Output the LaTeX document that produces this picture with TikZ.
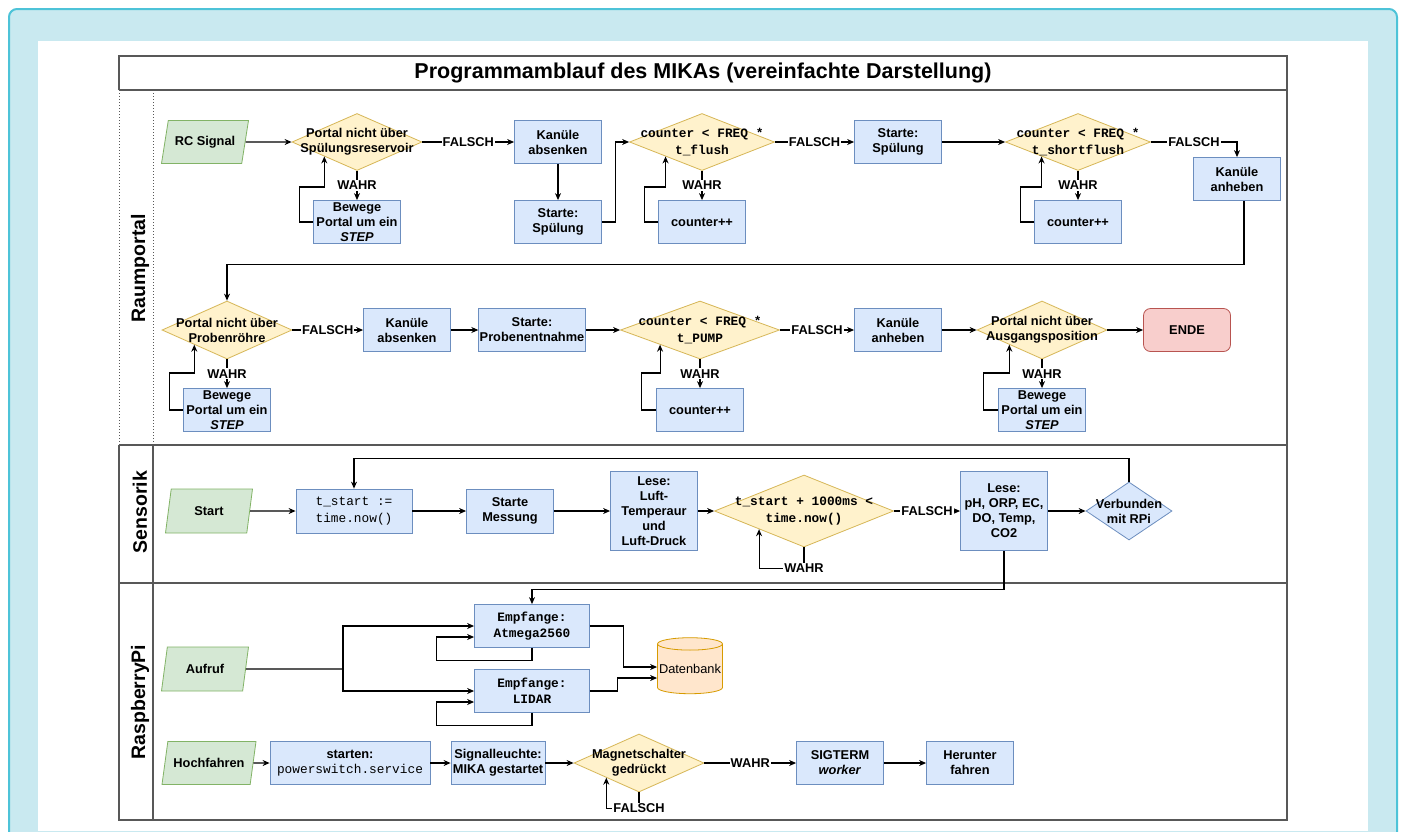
\documentclass[tikz,border=0pt]{standalone}
\usepackage{fontspec}
\setmainfont{Liberation Sans}
\setmonofont{Liberation Mono}
\usetikzlibrary{arrows.meta, positioning, shapes.geometric}

\definecolor{bluefill}{HTML}{DAE8FC}
\definecolor{blueline}{HTML}{6C8EBF}
\definecolor{yellowfill}{HTML}{FFF2CC}
\definecolor{yellowline}{HTML}{D6B656}
\definecolor{greenfill}{HTML}{D5E8D4}
\definecolor{greenline}{HTML}{82B366}
\definecolor{redfill}{HTML}{F8CECC}
\definecolor{redline}{HTML}{B85450}
\definecolor{orangefill}{HTML}{FFE6CC}
\definecolor{orangeline}{HTML}{D79B00}
\definecolor{frameline}{HTML}{585858}
\definecolor{cyanfill}{HTML}{C9E9F0}
\definecolor{cyanline}{HTML}{4DC3D8}

\newcommand{\boxfont}{\bfseries\fontsize{12.8}{15}\selectfont}
\newcommand{\codefont}{\ttfamily\bfseries\fontsize{12.8}{16.5}\selectfont}

\begin{document}
\begin{tikzpicture}[x=1pt, y=-1pt,
            process/.style={ rectangle, draw=blueline, fill=bluefill, line width=0.8pt, minimum width=87pt, minimum height=43pt, inner sep=1pt, align=center, font=\boxfont },
            decision/.style={ diamond, draw=yellowline, fill=yellowfill, line width=0.8pt, inner sep=0pt, minimum width=130pt, minimum height=57pt },
            dtext/.style={ align=center, font=\boxfont },
            dcode/.style={ align=center, font=\codefont },
            io/.style={ trapezium, trapezium left angle=70, trapezium right angle=110, trapezium stretches body, draw=greenline, fill=greenfill, line width=0.8pt, minimum width=87pt, minimum height=43pt, inner xsep=-3pt, font=\boxfont },
            terminal/.style={ rectangle, rounded corners=7pt, draw=redline, fill=redfill, line width=0.8pt, minimum width=87pt, minimum height=43pt, font=\boxfont },
            database/.style={ cylinder, shape border rotate=90, aspect=0.2, draw=orangeline, fill=orangefill, line width=0.8pt, minimum width=65pt, minimum height=56pt, inner sep=0pt, font=\fontsize{12.8}{15}\selectfont },
            arrow/.style={ -{Stealth[length=7pt, width=6pt]}, line width=1.1pt },
            link/.style={ line width=1.1pt },
            lbl/.style={ fill=white, inner sep=1pt, font=\boxfont },
            lane/.style={ rotate=90, font=\bfseries\fontsize{19.5}{22}\selectfont },
            frame/.style={ draw=frameline, line width=1.2pt }
        ]
            \clip (0,0) rectangle (1402,831);
            % Background
            \fill[white] (0,0) rectangle (1402,831);
            \draw[draw=cyanline, fill=cyanfill, line width=2pt, rounded corners=8pt] (9,9) rectangle (1397,870);
            \fill[white] (38,41) rectangle (1368,831);

            % Pool and lanes
            \draw[frame] (119,90) -- (119,56) -- (1287,56) -- (1287,820) -- (119,820) -- (119,445);
            \draw[frame] (119,90) -- (1287,90);
            \draw[frame] (119,445) -- (1287,445);
            \draw[frame] (119,583) -- (1287,583);
            \draw[frame] (153,445) -- (153,820);
            \draw[frameline, dotted, line width=1pt] (119,90) -- (119,445);
            \draw[frameline, dotted, line width=1pt] (153,90) -- (153,445);
            \node (title) at (703,73) [font=\bfseries\fontsize{21.5}{24}\selectfont] {Programmamblauf des MIKAs (vereinfachte Darstellung)};
            \node (raumportal) at (140,268) [lane] {Raumportal};
            \node (sensorik) at (140,512) [lane] {Sensorik};
            \node (raspberrypi) at (140,702) [lane] {RaspberryPi};

            % Raumportal, first row
            \node (rc) at (205,142) [io] {RC Signal};
            \node (d1) at (357,142) [decision] {};
            \node (d1t) at (d1) [dtext] {Portal nicht über\\Spülungsreservoir};
            \node (b1) at (357,222) [process] {Bewege\\Portal um ein\\\textit{STEP}};
            \node (k1) at (558,142) [process] {Kanüle\\absenken};
            \node (s1) at (558,222) [process] {Starte:\\Spülung};
            \node (d2) at (702,142) [decision, minimum width=145pt] {};
            \node (d2t) at (d2) [dcode] {counter < FREQ *\\t\_flush};
            \node (c1) at (702,222) [process] {counter++};
            \node (s2) at (898,142) [process] {Starte:\\Spülung};
            \node (d3) at (1078,142) [decision, minimum width=145pt] {};
            \node (d3t) at (d3) [dcode] {counter < FREQ *\\t\_shortflush};
            \node (c2) at (1078,222) [process] {counter++};
            \node (ka1) at (1237,179) [process] {Kanüle\\anheben};

            % Raumportal, second row
            \node (d4) at (227,330) [decision, minimum height=58pt] {};
            \node (d4t) at (d4) [dtext] {Portal nicht über\\Probenröhre};
            \node (b2) at (227,410) [process] {Bewege\\Portal um ein\\\textit{STEP}};
            \node (k2) at (407,330) [process] {Kanüle\\absenken};
            \node (p1) at (532,330) [process, minimum width=106pt] {Starte:\\Probenentnahme};
            \node (d5) at (700,330) [decision, minimum width=159pt, minimum height=58pt] {};
            \node (d5t) at (d5) [dcode] {counter < FREQ *\\t\_PUMP};
            \node (c3) at (700,410) [process] {counter++};
            \node (ka2) at (898,330) [process] {Kanüle\\anheben};
            \node (d6) at (1042,330) [decision, minimum height=58pt] {};
            \node (d6t) at (d6) [dtext] {Portal nicht über\\Ausgangsposition};
            \node (b3) at (1042,410) [process] {Bewege\\Portal um ein\\\textit{STEP}};
            \node (ende) at (1187,330) [terminal] {ENDE};

            % Sensorik
            \node (start) at (209,511) [io, minimum height=44pt] {Start};
            \node (ts) at (354,511) [process, minimum width=116pt, minimum height=44pt, font=\ttfamily\fontsize{12.8}{16.5}\selectfont] {t\_start :=\\time.now()};
            \node (sm) at (510,511) [process, minimum height=44pt] {Starte\\Messung};
            \node (luft) at (654,511) [process, minimum height=79pt] {Lese:\\Luft-\\Temperaur\\und\\Luft-Druck};
            \node (d7) at (804,511) [decision, minimum width=179pt, minimum height=72pt] {};
            \node (d7t) at (d7) [dcode] {t\_start + 1000ms <\\time.now()};
            \node (lese) at (1004,511) [process, minimum height=79pt] {Lese:\\pH, ORP, EC,\\DO, Temp,\\CO2};
            \node (d8) at (1129,511) [decision, draw=blueline, fill=bluefill, minimum width=86pt, minimum height=58pt] {};
            \node (d8t) at (d8) [dtext] {Verbunden\\mit RPi};

            % RaspberryPi
            \node (aufruf) at (205,669) [io, minimum height=44pt] {Aufruf};
            \node (e1) at (532,626) [process, minimum width=115pt, font=\codefont] {Empfange:\\Atmega2560};
            \node (e2) at (532,691) [process, minimum width=115pt, font=\codefont] {Empfange:\\LIDAR};
            \node (db) at (690,669) [database] {Datenbank};
            \node (hoch) at (209,763) [io, minimum width=94pt] {Hochfahren};
            \node (pw) at (350,763) [process, minimum width=160pt] {starten:\\{\ttfamily\mdseries powerswitch.service}};
            \node (sig) at (498,763) [process, minimum width=94pt] {Signalleuchte:\\MIKA gestartet};
            \node (d9) at (639,763) [decision, minimum height=58pt] {};
            \node (d9t) at (d9) [dtext] {Magnetschalter\\gedrückt};
            \node (sigterm) at (840,763) [process] {SIGTERM\\\textit{worker}};
            \node (herunter) at (970,763) [process] {Herunter\\fahren};
            \coordinate (split) at (343,669);

            % Arrows, first row
            \draw[arrow] (rc.east) -- (d1.west);
            \draw[arrow] (d1.east) -- node[lbl] {FALSCH} (k1.west);
            \draw[arrow] (d1.south) -- node[lbl] {WAHR} (b1.north);
            \draw[arrow] (b1.west) -- ++(-14,0) -- ++(0,-35) -| (d1.south west);
            \draw[arrow] (k1) -- (s1);
            \draw[arrow] (s1.east) -- ++(14,0) |- (d2.west);
            \draw[arrow] (d2.south) -- node[lbl] {WAHR} (c1.north);
            \draw[arrow] (c1.west) -- ++(-14,0) -- ++(0,-35) -| (d2.south west);
            \draw[arrow] (d2.east) -- node[lbl] {FALSCH} (s2.west);
            \draw[arrow] (s2) -- (d3);
            \draw[arrow] (d3.south) -- node[lbl] {WAHR} (c2.north);
            \draw[arrow] (c2.west) -- ++(-14,0) -- ++(0,-35) -| (d3.south west);
            \draw[arrow] (d3.east) -- node[lbl] {FALSCH} (ka1.north |- d3.east) -- (ka1.north);
            \draw[arrow] ([xshift=7pt]ka1.south) -- ++(0,64) -| (d4.north);

            % Arrows, second row
            \draw[arrow] (d4.east) -- node[lbl] {FALSCH} (k2.west);
            \draw[arrow] (d4.south) -- node[lbl] {WAHR} (b2.north);
            \draw[arrow] (b2.west) -- ++(-14,0) -- ++(0,-37) -| (d4.south west);
            \draw[arrow] (k2) -- (p1);
            \draw[arrow] (p1) -- (d5);
            \draw[arrow] (d5.south) -- node[lbl] {WAHR} (c3.north);
            \draw[arrow] (c3.west) -- ++(-15,0) -- ++(0,-37) -| (d5.south west);
            \draw[arrow] (d5.east) -- node[lbl] {FALSCH} (ka2.west);
            \draw[arrow] (ka2) -- (d6);
            \draw[arrow] (d6.south) -- node[lbl] {WAHR} (b3.north);
            \draw[arrow] (b3.west) -- ++(-15,0) -- ++(0,-37) -| (d6.south west);
            \draw[arrow] (d6) -- (ende);

            % Arrows, Sensorik
            \draw[arrow] (start.east) -- (ts.west);
            \draw[arrow] (ts) -- (sm);
            \draw[arrow] (sm) -- (luft);
            \draw[arrow] (luft) -- (d7);
            \draw[arrow] (d7.south) -- ++(0,21) node[lbl] {WAHR} -| (d7.south west);
            \draw[arrow] (d7.east) -- node[lbl] {FALSCH} (lese.west);
            \draw[arrow] (lese) -- (d8);
            \draw[arrow] (d8.north) -- ++(0,-23) -| (ts.north);
            \draw[arrow] (lese.south) -- ++(0,39) -| (e1.north);

            % Arrows, RaspberryPi
            \draw[link] (aufruf.east) -- (split);
            \draw[arrow] (split) |- (e1.west);
            \draw[arrow] (split) |- (e2.west);
            \draw[arrow] (e1.south) -- ++(0,13) -| ([xshift=-38pt,yshift=-11pt]e1.west) -- ([yshift=-11pt]e1.west);
            \draw[arrow] (e2.south) -- ++(0,13) -| ([xshift=-38pt,yshift=-11pt]e2.west) -- ([yshift=-11pt]e2.west);
            \draw[arrow] (e1.east) -- ++(34,0) |- ([yshift=2pt]db.west);
            \draw[arrow] (e2.east) -- ++(28,0) |- ([yshift=-9pt]db.west);
            \draw[arrow] (hoch) -- (pw);
            \draw[arrow] (pw) -- (sig);
            \draw[arrow] (sig) -- (d9);
            \draw[arrow] (d9.south) -- ++(0,16) node[lbl] {FALSCH} -| (d9.south west);
            \draw[arrow] (d9.east) -- node[lbl] {WAHR} (sigterm.west);
            \draw[arrow] (sigterm) -- (herunter);

        \end{tikzpicture}
\end{document}
